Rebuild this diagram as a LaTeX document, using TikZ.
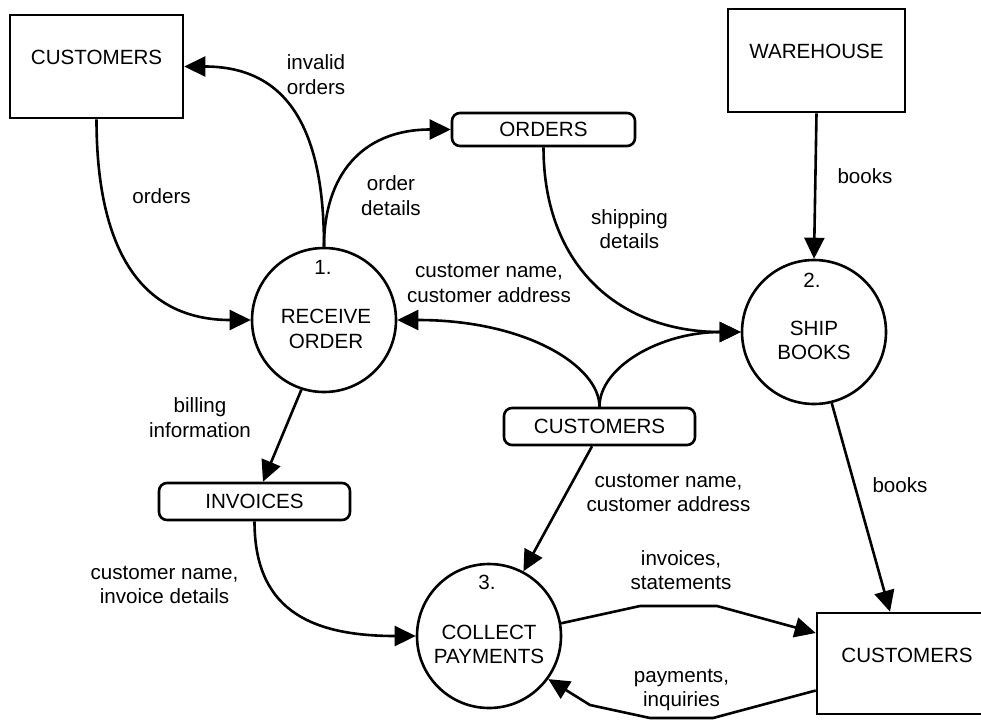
\documentclass[tikz,border=0pt]{standalone}
\usepackage{fontspec}
\setmainfont{Liberation Sans}
\usetikzlibrary{arrows.meta,calc}
\begin{document}
\begin{tikzpicture}[x=1pt,y=-1pt,
  every node/.style={font=\fontsize{20.6pt}{24.5pt}\selectfont},
  ln/.style={line width=2.6pt},
  flow/.style={ln, -{Triangle[length=21pt,width=20pt]}, line join=round},
  ext/.style={draw, ln, rectangle, inner sep=0pt, text depth=19pt},
  proc/.style={draw, ln, circle, inner sep=0pt, minimum size=144pt},
  store/.style={draw, ln, rectangle, rounded corners=8pt, inner sep=0pt},
  lbl/.style={align=center, inner sep=0pt},
]
\useasboundingbox (0,0) rectangle (981,720);
\fill[white] (0,0) rectangle (981,720);

% external entities
\node[ext, minimum width=173pt, minimum height=103pt] (cust1) at (96.5,66.5) {CUSTOMERS};
\node[ext, minimum width=177pt, minimum height=103pt] (wh) at (816.5,60.5) {WAREHOUSE};
\node[ext, minimum width=180pt, minimum height=101pt, text depth=17pt] (cust2) at (907,663.5) {CUSTOMERS};

% processes
\node[proc] (c1) at (324,320) {};
\node[lbl] (c1n) at (323,267) {1.};
\node[lbl] (c1t) at (326,329) {RECEIVE\\ORDER};
\node[proc] (c2) at (814,332) {};
\node[lbl] (c2n) at (812,280) {2.};
\node[lbl] (c2t) at (814,340.5) {SHIP\\BOOKS};
\node[proc] (c3) at (489,636) {};
\node[lbl] (c3n) at (487,582) {3.};
\node[lbl] (c3t) at (489,644.5) {COLLECT\\PAYMENTS};

% data stores
\node[store, minimum width=183pt, minimum height=33pt] (ord) at (543.5,129.5) {ORDERS};
\node[store, minimum width=191pt, minimum height=37pt] (inv) at (254.5,501.5) {INVOICES};
\node[store, minimum width=191pt, minimum height=37pt] (cst) at (599.5,426.5) {CUSTOMERS};

% flows
\draw[flow] (cust1.south) .. controls +(0,130) and +(-110,0) .. (c1.west);
\draw[flow] (c1.north) .. controls +(0,-115) and +(105,0) .. (cust1.east);
\draw[flow] (c1.north) .. controls +(0,-70) and +(-90,0) .. (ord.west);
\draw[flow] (ord.south) .. controls +(0,120) and +(-120,0) .. (c2.west);
\draw[flow] (wh.south) -- (c2.north);
\draw[flow] (cst.north) .. controls +(0,-40) and +(130,0) .. (c1.east);
\draw[flow] (cst.north) .. controls +(0,-40) and +(-80,0) .. (c2.west);
\draw[flow] (c1.-108) -- ([xshift=8.5pt]inv.north);
\draw[flow] (inv.south) .. controls +(0,85) and +(-110,0) .. (c3.west);
\draw[flow] ([xshift=-7.5pt]cst.south) -- (c3.62);
\draw[flow] (c2.-76) -- ([xshift=-17pt]cust2.north);
\coordinate (p1) at (640,606);
\coordinate (p2) at (717,606);
\draw[flow] (c3.10) -- (p1) -- (p2) -- ([yshift=30.5pt]cust2.west);
\coordinate (q1) at (713,718);
\coordinate (q2) at (650,718);
\coordinate (q3) at (590,705);
\draw[flow] ([yshift=-27pt]cust2.west) -- (q1) -- (q2) -- (q3) -- (c3.-36);

% flow labels
\node[lbl] (l1) at (316,74.5) {invalid\\orders};
\node[lbl] (l2) at (161.5,196) {orders};
\node[lbl] (l3) at (391,195.5) {order\\details};
\node[lbl] (l4) at (629.5,229) {shipping\\details};
\node[lbl] (l5) at (865,176) {books};
\node[lbl] (l6) at (489,283.5) {customer name,\\customer address};
\node[lbl] (l7) at (200,417.5) {billing\\information};
\node[lbl] (l8) at (164.5,585) {customer name,\\invoice details};
\node[lbl] (l9) at (668.5,493) {customer name,\\customer address};
\node[lbl] (l10) at (900,485) {books};
\node[lbl] (l11) at (681,570) {invoices,\\statements};
\node[lbl] (l12) at (681.5,690) {payments,\\inquiries};
\end{tikzpicture}
\end{document}
